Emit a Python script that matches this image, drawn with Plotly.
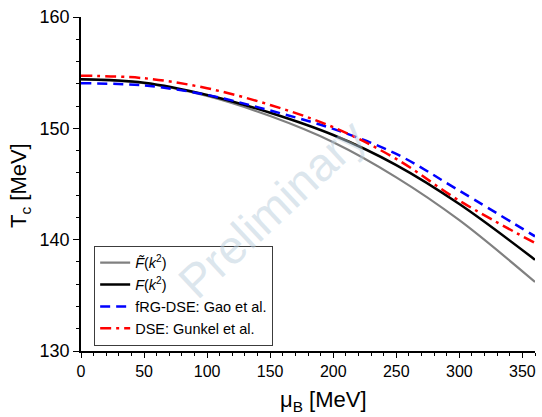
import plotly.graph_objects as go

mu_B = [0, 50, 100, 150, 200, 250, 300, 360]
Tc_Ftilde = [154.4, 154.05, 152.9, 151.1, 148.75, 145.6, 141.75, 136.2]
Tc_F = [154.4, 154.1, 153.0, 151.4, 149.4, 146.7, 143.2, 138.2]
Tc_Gao = [154.05, 153.85, 153.0, 151.6, 149.95, 147.7, 144.4, 140.3]
Tc_Gunkel = [154.73, 154.5, 153.6, 152.1, 150.1, 147.25, 143.5, 139.7]

names = ["<i>F\u0303</i>(<i>k</i><sup>2</sup>)", "<i>F</i>(<i>k</i><sup>2</sup>)",
         "fRG-DSE: Gao et al.", "DSE: Gunkel et al."]

FONT = "Liberation Sans, Arial, sans-serif"

fig = go.Figure()
fig.add_trace(go.Scatter(x=mu_B, y=Tc_Ftilde, mode="lines", name=names[0],
                         line=dict(color="rgb(128,128,128)", width=2.2, shape="spline")))
fig.add_trace(go.Scatter(x=mu_B, y=Tc_F, mode="lines", name=names[1],
                         line=dict(color="black", width=2.5, shape="spline")))
fig.add_trace(go.Scatter(x=mu_B, y=Tc_Gao, mode="lines", name=names[2],
                         line=dict(color="rgb(0,0,255)", width=2.5, shape="spline", dash="10px,6px")))
fig.add_trace(go.Scatter(x=mu_B, y=Tc_Gunkel, mode="lines", name=names[3],
                         line=dict(color="rgb(255,0,0)", width=2.5, shape="spline", dash="11px,5px,3px,5px")))

axcommon = dict(showgrid=False, zeroline=False, showline=True, linecolor="black", linewidth=1.5,
                tickcolor="black", tickwidth=1.2)

fig.update_layout(
    width=542, height=417,
    margin=dict(l=81, r=7, t=17, b=66),
    plot_bgcolor="white", paper_bgcolor="white",
    font=dict(family=FONT, color="black"),
    showlegend=True,
    xaxis=dict(range=[0, 360], tick0=0, dtick=50, ticks="outside", ticklen=5,
               minor=dict(dtick=10, ticks="outside", ticklen=3, tickcolor="black", tickwidth=1.2),
               tickfont=dict(size=16, family=FONT), **axcommon),
    yaxis=dict(range=[130, 160], tick0=130, dtick=10, ticks="outside", ticklen=6,
               minor=dict(dtick=2, ticks="outside", ticklen=3, tickcolor="black", tickwidth=1.2),
               tickfont=dict(size=18, family=FONT), **axcommon),
    xaxis2=dict(range=[0, 360], overlaying="x", side="top", anchor="y", tick0=0, dtick=50,
                ticks="inside", ticklen=5, showticklabels=False,
                minor=dict(dtick=10, ticks="inside", ticklen=3, tickcolor="black", tickwidth=1.2),
                **axcommon),
    yaxis2=dict(range=[130, 160], overlaying="y", side="right", anchor="x", tick0=130, dtick=10,
                ticks="inside", ticklen=6, showticklabels=False,
                minor=dict(dtick=2, ticks="inside", ticklen=3, tickcolor="black", tickwidth=1.2),
                **axcommon),
    legend=dict(x=0.029, y=0.315, xanchor="left", yanchor="top",
                bordercolor="rgb(60,60,60)", borderwidth=1, bgcolor="white",
                font=dict(size=14.5, family=FONT), tracegroupgap=0, itemwidth=30),
    annotations=[
        dict(text="Preliminary", x=(272 - 81) / 454, y=(351 - 208) / 334, xref="paper", yref="paper",
             xanchor="center", yanchor="middle",
             showarrow=False, textangle=-43,
             font=dict(size=47, family=FONT, color="rgba(185,205,220,0.5)")),
        dict(text="\u03bc<sub>B</sub> [MeV]", x=(323 - 81) / 454, y=-(401 - 351) / 334,
             xref="paper", yref="paper", xanchor="center", yanchor="middle",
             showarrow=False, font=dict(size=22, family=FONT)),
        dict(text="T<sub>c</sub> [MeV]", x=(20 - 81) / 454, y=(351 - 186) / 334,
             xref="paper", yref="paper", xanchor="center", yanchor="middle",
             showarrow=False, textangle=-90, font=dict(size=22, family=FONT)),
    ],
)

fig.write_html("out.html")
